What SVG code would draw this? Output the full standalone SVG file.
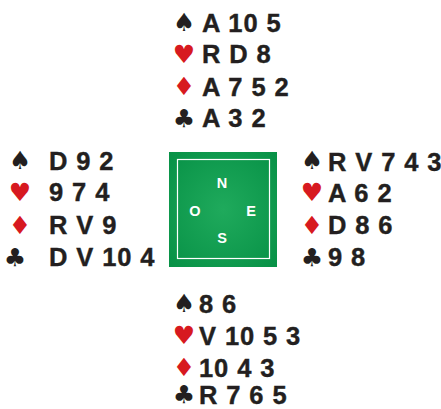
<svg xmlns="http://www.w3.org/2000/svg" width="441" height="409" viewBox="0 0 441 409">
<style>
.t{font-family:"Liberation Sans",Arial,sans-serif;font-weight:bold;font-size:25.5px;fill:#231f20;stroke:#231f20;stroke-width:0.4;letter-spacing:0.9px}
.s{font-family:"DejaVu Sans",sans-serif;font-size:25px;text-anchor:middle}
.k{fill:#231f20}
.r{fill:#d71920}
.d{font-family:"Liberation Sans",Arial,sans-serif;font-weight:bold;font-size:14.5px;fill:#fff;text-anchor:middle}
</style>
<defs>
<radialGradient id="g" cx="0.5" cy="0.5" r="0.7">
<stop offset="0" stop-color="#1faa5c"/>
<stop offset="1" stop-color="#079146"/>
</radialGradient>
</defs>
<g id="north">
<text class="s k" x="184" y="31">♠</text>
<text class="s r" x="184" y="63">♥</text>
<text class="s r" x="184" y="95">♦</text>
<text class="s k" x="184" y="127">♣</text>
<text class="t" x="202" y="32">A 10 5</text>
<text class="t" x="202" y="63">R D 8</text>
<text class="t" x="202" y="96">A 7 5 2</text>
<text class="t" x="202" y="127">A 3 2</text>
</g>
<g id="west">
<text class="s k" x="20" y="169">♠</text>
<text class="s r" x="20" y="201">♥</text>
<text class="s r" x="20" y="234">♦</text>
<text class="s k" x="15" y="266">♣</text>
<text class="t" x="49" y="170">D 9 2</text>
<text class="t" x="49" y="201">9 7 4</text>
<text class="t" x="49" y="234">R V 9</text>
<text class="t" x="49" y="266">D V 10 4</text>
</g>
<g id="table">
<rect x="169" y="152" width="108" height="115" fill="url(#g)"/>
<rect x="177.5" y="159.5" width="92" height="99" fill="none" stroke="#fff" stroke-width="1.2"/>
<text class="d" x="222" y="188">N</text>
<text class="d" x="195" y="216">O</text>
<text class="d" x="251" y="216">E</text>
<text class="d" x="222" y="243">S</text>
</g>
<g id="east">
<text class="s k" x="312" y="169">♠</text>
<text class="s r" x="312" y="201">♥</text>
<text class="s r" x="312" y="234">♦</text>
<text class="s k" x="312" y="266">♣</text>
<text class="t" x="328" y="171">R V 7 4 3</text>
<text class="t" x="328" y="202">A 6 2</text>
<text class="t" x="328" y="234">D 8 6</text>
<text class="t" x="328" y="266">9 8</text>
</g>
<g id="south">
<text class="s k" x="184" y="312">♠</text>
<text class="s r" x="184" y="344">♥</text>
<text class="s r" x="184" y="376">♦</text>
<text class="s k" x="184" y="403">♣</text>
<text class="t" x="199" y="313">8 6</text>
<text class="t" x="199" y="345">V 10 5 3</text>
<text class="t" x="199" y="377">10 4 3</text>
<text class="t" x="199" y="404">R 7 6 5</text>
</g>
</svg>
